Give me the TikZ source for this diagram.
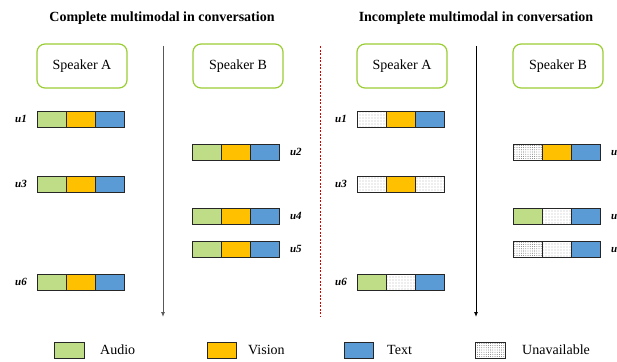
\documentclass[tikz,border=0pt]{standalone}
\usepackage{fontspec}
\setmainfont{Liberation Serif}
\definecolor{audGreen}{HTML}{BFDD86}
\definecolor{visGold}{HTML}{FFC000}
\definecolor{txtBlue}{HTML}{5B9BD5}
\definecolor{spkLime}{HTML}{9ACD32}
\usetikzlibrary{positioning,arrows.meta,patterns.meta}
% one utterance: audio, vision and text cells side by side
\newcommand{\uttbar}[6]{%
  \node[seg,#4,anchor=west] (#1a) at (#2,#3) {};
  \node[seg,#5,right=0pt of #1a] (#1v) {};
  \node[seg,#6,right=0pt of #1v] (#1t) {};
}

\begin{document}
\begin{tikzpicture}[x=1pt,y=-1pt,
  title/.style={font=\fontsize{14}{16}\selectfont\bfseries},
  spk/.style={draw=spkLime, line width=1.2pt, rounded corners=8pt,
    minimum width=90pt, minimum height=44pt, font=\fontsize{14}{16}\selectfont},
  seg/.style={draw=black!85, line width=0.9pt, minimum width=29.3pt,
    minimum height=16pt, inner sep=0pt, outer sep=0pt},
  aud/.style={fill=audGreen},
  vis/.style={fill=visGold},
  txt/.style={fill=txtBlue},
  nav/.style={fill=white, pattern={Dots[distance=3pt,radius=0.45pt]}, pattern color=black!80},
  navd/.style={fill=white, pattern={Dots[distance=2.2pt,radius=0.4pt]}, pattern color=black!75},
  ulab/.style={font=\fontsize{11}{12}\selectfont\bfseries\itshape, inner sep=0pt},
  legtext/.style={font=\fontsize{14}{16}\selectfont, inner sep=0pt, anchor=west},
  arr/.style={-{Latex[length=5pt,width=4pt]}, line width=0.9pt}
]
  \useasboundingbox (0,0) rectangle (617,361);

  % titles
  \node[title] (tcomp) at (162,18) {Complete multimodal in conversation};
  \node[title] (tinc) at (476,18) {Incomplete multimodal in conversation};

  % speakers
  \node[spk] (lspA) at (82,66) {Speaker A};
  \node[spk] (lspB) at (238,66) {Speaker B};
  \node[spk] (rspA) at (402,66) {Speaker A};
  \node[spk] (rspB) at (558,66) {Speaker B};

  % time axes and divider
  \coordinate (ltop) at (163,46);
  \coordinate (lbot) at (163,317);
  \coordinate (rtop) at (476,46);
  \coordinate (rbot) at (476,317);
  \coordinate (dtop) at (320,46);
  \coordinate (dbot) at (320,316);
  \draw[arr, draw=black!65] (ltop) -- (lbot);
  \draw[arr] (rtop) -- (rbot);
  \draw[red!85!black, line width=0.6pt, dash pattern=on 2pt off 1.5pt] (dtop) -- (dbot);

  % complete conversation
  \uttbar{lu1}{37}{119}{aud}{vis}{txt}
  \uttbar{lu2}{192}{152}{aud}{vis}{txt}
  \uttbar{lu3}{37}{184}{aud}{vis}{txt}
  \uttbar{lu4}{192}{216}{aud}{vis}{txt}
  \uttbar{lu5}{192}{249}{aud}{vis}{txt}
  \uttbar{lu6}{37}{282}{aud}{vis}{txt}
  \node[ulab, left=10pt of lu1a] (llab1) {u1};
  \node[ulab, right=10pt of lu2t] (llab2) {u2};
  \node[ulab, left=10pt of lu3a] (llab3) {u3};
  \node[ulab, right=10pt of lu4t] (llab4) {u4};
  \node[ulab, right=10pt of lu5t] (llab5) {u5};
  \node[ulab, left=10pt of lu6a] (llab6) {u6};

  % incomplete conversation
  \uttbar{ru1}{357}{119}{nav}{vis}{txt}
  \uttbar{ru2}{513}{152}{navd}{vis}{txt}
  \uttbar{ru3}{357}{184}{nav}{vis}{nav}
  \uttbar{ru4}{513}{216}{aud}{nav}{txt}
  \uttbar{ru5}{513}{249}{navd}{nav}{txt}
  \uttbar{ru6}{357}{282}{aud}{nav}{txt}
  \node[ulab, left=10pt of ru1a] (rlab1) {u1};
  \node[ulab, right=10pt of ru2t] (rlab2) {u2};
  \node[ulab, left=10pt of ru3a] (rlab3) {u3};
  \node[ulab, right=10pt of ru4t] (rlab4) {u4};
  \node[ulab, right=10pt of ru5t] (rlab5) {u5};
  \node[ulab, left=10pt of ru6a] (rlab6) {u6};

  % legend
  \node[seg,aud] (legA) at (69.5,350) {};
  \node[legtext] (legAt) at (100,350) {Audio};
  \node[seg,vis] (legV) at (222,350) {};
  \node[legtext] (legVt) at (248,350) {Vision};
  \node[seg,txt] (legT) at (359,350) {};
  \node[legtext] (legTt) at (387,350) {Text};
  \node[seg,navd] (legN) at (490.5,350) {};
  \node[legtext] (legNt) at (522,350) {Unavailable};
\end{tikzpicture}
\end{document}
